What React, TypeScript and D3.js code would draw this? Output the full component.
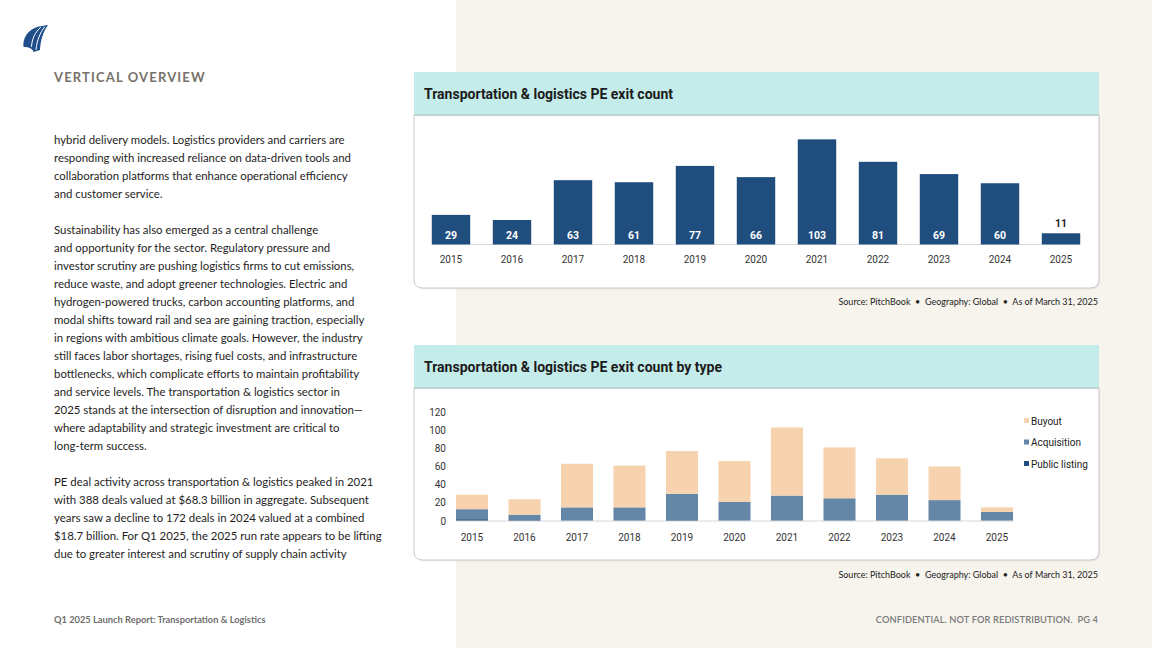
import React from 'react';
import * as d3 from 'd3';

const years = ['2015', '2016', '2017', '2018', '2019', '2020', '2021', '2022', '2023', '2024', '2025'];
const exitCounts = [29, 24, 63, 61, 77, 66, 103, 81, 69, 60, 11];

const publicListing = [2, 1, 0, 0, 1, 0, 0, 0, 0, 0, 0];
const acquisition = [11, 6, 15, 15, 29, 21, 28, 25, 29, 23, 10];
const buyout = [16, 17, 48, 46, 47, 45, 75, 56, 40, 37, 5];
const typeTicks = [0, 20, 40, 60, 80, 100, 120];
const typeKeys = ['Public listing', 'Acquisition', 'Buyout'];

const para1 = [
  'hybrid delivery models. Logistics providers and carriers are',
  'responding with increased reliance on data-driven tools and',
  'collaboration platforms that enhance operational efficiency',
  'and customer service.',
];
const para2 = [
  'Sustainability has also emerged as a central challenge',
  'and opportunity for the sector. Regulatory pressure and',
  'investor scrutiny are pushing logistics firms to cut emissions,',
  'reduce waste, and adopt greener technologies. Electric and',
  'hydrogen-powered trucks, carbon accounting platforms, and',
  'modal shifts toward rail and sea are gaining traction, especially',
  'in regions with ambitious climate goals. However, the industry',
  'still faces labor shortages, rising fuel costs, and infrastructure',
  'bottlenecks, which complicate efforts to maintain profitability',
  'and service levels. The transportation & logistics sector in',
  '2025 stands at the intersection of disruption and innovation—',
  'where adaptability and strategic investment are critical to',
  'long-term success.',
];
const para3 = [
  'PE deal activity across transportation & logistics peaked in 2021',
  'with 388 deals valued at $68.3 billion in aggregate. Subsequent',
  'years saw a decline to 172 deals in 2024 valued at a combined',
  '$18.7 billion. For Q1 2025, the 2025 run rate appears to be lifting',
  'due to greater interest and scrutiny of supply chain activity',
];

const NAVY = '#1f4e7e';
const STEEL = '#6487a8';
const PEACH = '#f6d3ae';
const TEAL = '#c4ecea';
const BEIGE = '#f7f4ee';
const BODY_FONT = 'Lato, "Open Sans", sans-serif';
const COND_FONT = '"Roboto", "Noto Sans", sans-serif';

const typeColor: Record<string, string> = {
  'Public listing': NAVY,
  Acquisition: STEEL,
  Buyout: PEACH,
};

function Card({ x, y, w, h, headH, title }: { x: number; y: number; w: number; h: number; headH: number; title: string }) {
  const r = 9;
  const body = `M${x},${y + headH} H${x + w} V${y + h - r} Q${x + w},${y + h} ${x + w - r},${y + h} H${x + r} Q${x},${y + h} ${x},${y + h - r} Z`;
  return (
    <g>
      <path d={body} transform="translate(1,1.5)" fill="#000" opacity={0.06} />
      <path d={body} fill="#fff" stroke="#c9c9c9" strokeWidth={1} />
      <rect x={x} y={y} width={w} height={headH} fill={TEAL} />
      <line x1={x} x2={x + w} y1={y + headH} y2={y + headH} stroke="#a9bcbc" strokeWidth={1} />
      <text x={x + 10} y={y + headH / 2 + 5} fontFamily={COND_FONT} fontWeight={700} fontSize={14} fill="#1b1b1b">
        {title}
      </text>
    </g>
  );
}

function Source({ y }: { y: number }) {
  return (
    <text x={1098} y={y} textAnchor="end" fontFamily={BODY_FONT} fontSize={9} fill="#222" style={{ whiteSpace: 'pre' }}>
      {'Source: PitchBook  •  Geography: Global  •  As of March 31, 2025'}
    </text>
  );
}

function ExitChart() {
  const x = d3.scaleBand<string>().domain(years).range([420.5, 1091.5]).paddingInner(0.37).paddingOuter(0.185);
  const y = d3.scaleLinear().domain([0, 120]).range([244.5, 122]);
  const x0 = x(years[0])!;
  const x1 = x(years[years.length - 1])! + x.bandwidth();
  return (
    <g>
      <line x1={x0} x2={x1} y1={y(0)} y2={y(0)} stroke="#dcdcdc" strokeWidth={1} />
      {years.map((yr, i) => {
        const v = exitCounts[i];
        const bx = x(yr)!;
        const cx = bx + x.bandwidth() / 2;
        const inside = v > 20;
        return (
          <g key={yr}>
            <rect x={bx} y={y(v)} width={x.bandwidth()} height={y(0) - y(v)} fill={NAVY} />
            <text
              x={cx}
              y={inside ? y(0) - 6 : y(v) - 6}
              textAnchor="middle"
              fontFamily={COND_FONT}
              fontWeight={700}
              fontSize={10.5}
              fill={inside ? '#fff' : '#222'}
            >
              {v}
            </text>
            <text x={cx} y={263} textAnchor="middle" fontFamily={COND_FONT} fontSize={10} fill="#333">
              {yr}
            </text>
          </g>
        );
      })}
    </g>
  );
}

function TypeChart() {
  const x = d3.scaleBand<string>().domain(years).range([445.75, 1023.25]).paddingInner(0.39).paddingOuter(0.195);
  const y = d3.scaleLinear().domain([0, 120]).range([521, 412]);
  const rows = years.map((yr, i) => ({
    year: yr,
    'Public listing': publicListing[i],
    Acquisition: acquisition[i],
    Buyout: buyout[i],
  }));
  const stack = d3.stack<any>().keys(typeKeys)(rows);
  const x0 = x(years[0])!;
  const x1 = x(years[years.length - 1])! + x.bandwidth();
  const legend = ['Buyout', 'Acquisition', 'Public listing'];
  return (
    <g>
      {typeTicks.map((t) => (
        <text key={t} x={446} y={y(t) + 3.5} textAnchor="end" fontFamily={COND_FONT} fontSize={10} fill="#333">
          {t}
        </text>
      ))}
      {stack.map((layer) => (
        <g key={layer.key} fill={typeColor[layer.key]}>
          {layer.map((d, i) => (
            <rect key={i} x={x(years[i])!} y={y(d[1])} width={x.bandwidth()} height={y(d[0]) - y(d[1])} />
          ))}
        </g>
      ))}
      <line x1={x0} x2={x1} y1={y(0)} y2={y(0)} stroke="#d6d6d6" strokeWidth={1} />
      {years.map((yr) => (
        <text key={yr} x={x(yr)! + x.bandwidth() / 2} y={541} textAnchor="middle" fontFamily={COND_FONT} fontSize={10} fill="#333">
          {yr}
        </text>
      ))}
      {legend.map((k, i) => (
        <g key={k} transform={`translate(1024,${421 + i * 21.5})`}>
          <rect x={0} y={-3} width={5} height={5} fill={typeColor[k]} />
          <text x={7} y={3.5} fontFamily={COND_FONT} fontSize={10} fill="#222">
            {k}
          </text>
        </g>
      ))}
    </g>
  );
}

function Paragraph({ lines, y0 }: { lines: string[]; y0: number }) {
  return (
    <g>
      {lines.map((l, i) => (
        <text key={i} x={54} y={y0 + i * 18} fontFamily={BODY_FONT} fontSize={11.4} fill="#1e1e1e">
          {l}
        </text>
      ))}
    </g>
  );
}

export default function App() {
  return (
    <svg width={1152} height={648} style={{ position: 'absolute', left: 0, top: 0, display: 'block' }}>
      <rect x={0} y={0} width={1152} height={648} fill="#fff" />
      <rect x={456} y={0} width={696} height={648} fill={BEIGE} />

      {/* logo */}
      <path
        d="M23.5,47 C22.5,38 28,29 39,26.5 L48,25 C43.5,31 40.5,40 40,50 L33.5,52 C33,50 31,48 28.5,47.5 C26.5,47 25,47 23.5,47 Z"
        fill="#1f4e8a"
      />
      <g fill="none" stroke="#fff" strokeWidth={1} strokeLinecap="round">
        <path d="M44.5,27 C40,33 37,40 36,49.5" />
        <path d="M40.5,27.5 C35,32 32,39 31.5,46.5" />
      </g>

      <text x={54} y={82} fontFamily={BODY_FONT} fontWeight={700} fontSize={13} letterSpacing={1.15} fill="#77726b">
        VERTICAL OVERVIEW
      </text>

      <Paragraph lines={para1} y0={144} />
      <Paragraph lines={para2} y0={234} />
      <Paragraph lines={para3} y0={486} />

      <Card x={414} y={72} w={685} h={216} headH={43} title="Transportation & logistics PE exit count" />
      <ExitChart />
      <Source y={305} />

      <Card x={414} y={345} w={685} h={215} headH={43} title="Transportation & logistics PE exit count by type" />
      <TypeChart />
      <Source y={578} />

      <text x={54} y={623} fontFamily={BODY_FONT} fontWeight={700} fontSize={9.3} fill="#6e6e6e">
        Q1 2025 Launch Report: Transportation &amp; Logistics
      </text>
      <text x={1098} y={623} textAnchor="end" fontFamily={BODY_FONT} fontWeight={600} fontSize={9.3} letterSpacing={0.1} fill="#7a7a7a" style={{ whiteSpace: 'pre' }}>
        {'CONFIDENTIAL. NOT FOR REDISTRIBUTION.  PG 4'}
      </text>
    </svg>
  );
}
